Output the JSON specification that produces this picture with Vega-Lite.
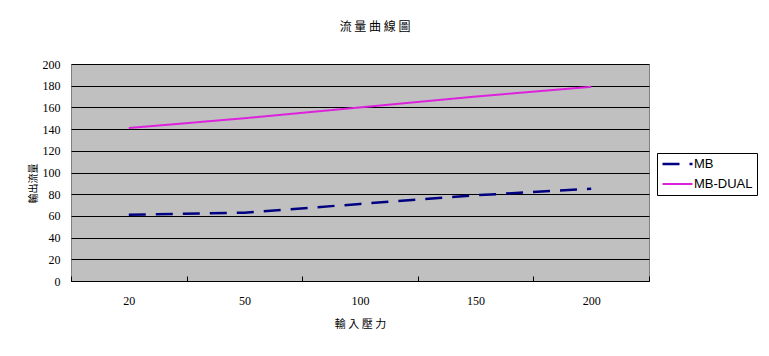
{
  "$schema": "https://vega.github.io/schema/vega-lite/v6.json",
  "width": 578,
  "height": 217,
  "autosize": {"type": "none"},
  "padding": {"left": 71, "top": 64, "right": 120, "bottom": 75},
  "background": "white",
  "title": {
    "text": "流 量 曲 線 圖",
    "font": "Noto Sans CJK TC",
    "fontSize": 12,
    "fontWeight": "normal",
    "color": "black",
    "anchor": "middle",
    "frame": "group",
    "offset": 24,
    "dx": 15
  },
  "config": {
    "view": {"fill": "#c0c0c0", "stroke": "#808080", "strokeWidth": 1}
  },
  "data": {
    "values": [
      {"p": 20, "s": "MB", "v": 61},
      {"p": 50, "s": "MB", "v": 63},
      {"p": 100, "s": "MB", "v": 71},
      {"p": 150, "s": "MB", "v": 79},
      {"p": 200, "s": "MB", "v": 85},
      {"p": 20, "s": "MB-DUAL", "v": 141},
      {"p": 50, "s": "MB-DUAL", "v": 150},
      {"p": 100, "s": "MB-DUAL", "v": 160},
      {"p": 150, "s": "MB-DUAL", "v": 170},
      {"p": 200, "s": "MB-DUAL", "v": 179}
    ]
  },
  "mark": {"type": "line", "strokeCap": "butt"},
  "encoding": {
    "x": {
      "field": "p",
      "type": "ordinal",
      "bandPosition": 0.5,
      "scale": {"type": "band", "paddingInner": 0, "paddingOuter": 0},
      "axis": {
        "title": "輸 入 壓 力",
        "titleFont": "Noto Sans CJK TC",
        "titleFontSize": 11,
        "titleFontWeight": "normal",
        "titleColor": "black",
        "titlePadding": 12,
        "labelAngle": 0,
        "labelFont": "Liberation Serif",
        "labelFontSize": 12,
        "labelColor": "black",
        "labelPadding": 19,
        "tickBand": "extent",
        "tickSize": -5,
        "tickColor": "black",
        "domainColor": "black",
        "grid": false
      }
    },
    "y": {
      "field": "v",
      "type": "quantitative",
      "scale": {"domain": [0, 200]},
      "axis": {
        "values": [0, 20, 40, 60, 80, 100, 120, 140, 160, 180, 200],
        "title": "輸出流量",
        "titleFont": "Noto Sans CJK TC",
        "titleFontSize": 10,
        "titleFontWeight": "normal",
        "titleColor": "black",
        "titlePadding": 4,
        "titleY": 119,
        "labelFont": "Liberation Serif",
        "labelFontSize": 12,
        "labelColor": "black",
        "labelPadding": 11,
        "ticks": false,
        "domain": false,
        "grid": true,
        "gridColor": "black",
        "gridOpacity": 1,
        "gridWidth": 1
      }
    },
    "color": {
      "field": "s",
      "type": "nominal",
      "scale": {"domain": ["MB", "MB-DUAL"], "range": ["#000080", "#dd22dd"]},
      "legend": {
        "orient": "none",
        "legendX": 586,
        "legendY": 89,
        "fillColor": "white",
        "strokeColor": "black",
        "padding": 4,
        "rowPadding": 6,
        "clipHeight": 14,
        "title": null,
        "symbolType": "stroke",
        "symbolSize": 900,
        "symbolStrokeWidth": 2.5,
        "labelFont": "Liberation Sans",
        "labelFontSize": 13,
        "labelColor": "black",
        "labelOffset": 0,
        "cornerRadius": 0
      }
    },
    "strokeDash": {
      "field": "s",
      "type": "nominal",
      "scale": {"domain": ["MB", "MB-DUAL"], "range": [[17, 10], [1, 0]]},
      "legend": {
        "orient": "none",
        "legendX": 586,
        "legendY": 89,
        "fillColor": "white",
        "strokeColor": "black",
        "padding": 4,
        "rowPadding": 6,
        "clipHeight": 14,
        "title": null,
        "symbolType": "stroke",
        "symbolSize": 900,
        "symbolStrokeWidth": 2.5,
        "labelFont": "Liberation Sans",
        "labelFontSize": 13,
        "labelColor": "black",
        "labelOffset": 0,
        "cornerRadius": 0
      }
    },
    "strokeWidth": {
      "field": "s",
      "type": "nominal",
      "scale": {"domain": ["MB", "MB-DUAL"], "range": [2.5, 2]},
      "legend": null
    }
  }
}
